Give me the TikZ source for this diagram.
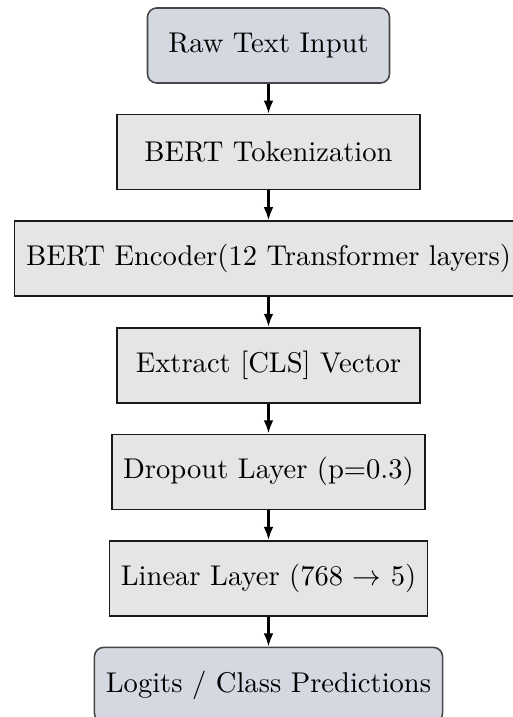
\documentclass[tikz,border=0pt]{standalone}
\usetikzlibrary{positioning,arrows.meta}
\definecolor{stagefill}{RGB}{229,229,229}
\definecolor{termfill}{RGB}{212,216,224}
\definecolor{termline}{RGB}{70,70,70}
\begin{document}
\begin{tikzpicture}[
  x=0.35pt, y=-0.35pt,
  node distance=10.5pt,
  stage/.style={rectangle, draw=black!90, line width=0.55pt, fill=stagefill,
    minimum width=106pt, minimum height=26.25pt, inner xsep=4pt},
  terminal/.style={rectangle, rounded corners=3.2pt, draw=termline, line width=0.55pt,
    fill=termfill, minimum width=84.7pt, minimum height=26.25pt, inner xsep=4pt},
  flow/.style={-{Latex[length=4.6pt,width=3.4pt]}, line width=0.8pt}
]
\useasboundingbox (0,0) rectangle (513,717);
\clip (0,0) rectangle (513,717);

\node[terminal] (raw) at (268.5,45.5) {Raw Text Input};
\node[stage, below=of raw] (tok) {BERT Tokenization};
\node[stage, below=of tok] (enc) {BERT Encoder(12 Transformer layers)};
\node[stage, below=of enc] (cls) {Extract [CLS] Vector};
\node[stage, below=of cls] (drop) {Dropout Layer (p=0.3)};
\node[stage, below=of drop] (lin) {Linear Layer (768 $\rightarrow$ 5)};
\node[terminal, below=of lin] (out) {Logits / Class Predictions};

\draw[flow] (raw) -- (tok);
\draw[flow] (tok) -- (enc);
\draw[flow] (enc) -- (cls);
\draw[flow] (cls) -- (drop);
\draw[flow] (drop) -- (lin);
\draw[flow] (lin) -- (out);
\end{tikzpicture}
\end{document}
